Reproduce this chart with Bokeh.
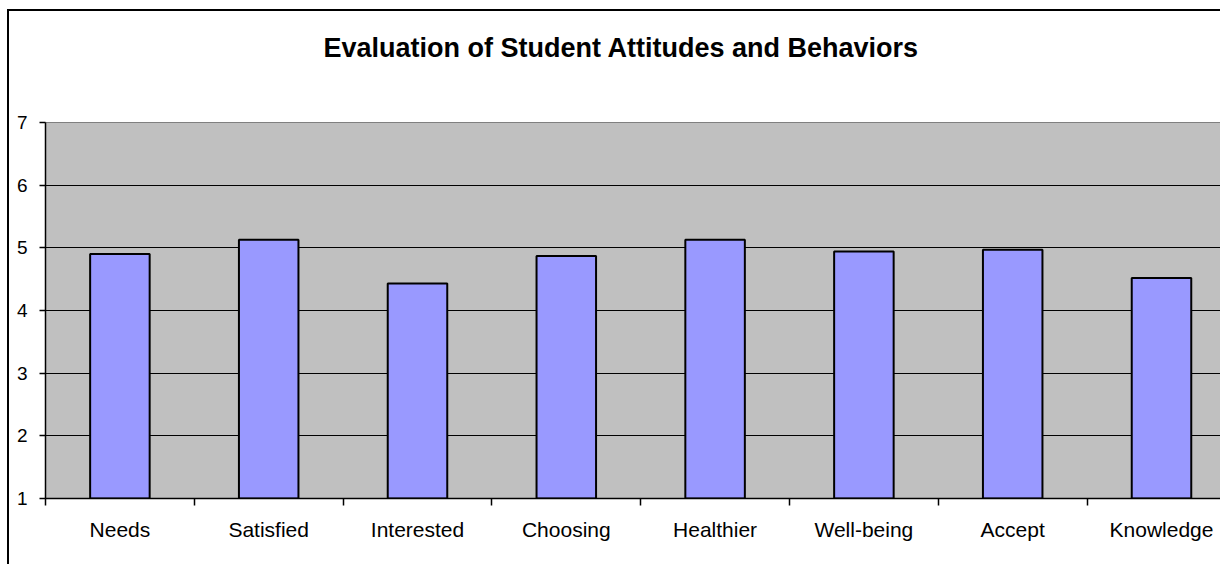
from bokeh.plotting import figure
from bokeh.models import Range1d, FixedTicker, Title
from bokeh.embed import file_html
from bokeh.resources import INLINE

# ---- data ----
categories = ["Needs", "Satisfied", "Interested", "Choosing", "Healthier",
              "Well-being", "Accept", "Knowledge"]
values = [4.90, 5.13, 4.43, 4.87, 5.13, 4.94, 4.97, 4.52]
y_ticks = [1, 2, 3, 4, 5, 6, 7]
title_text = "Evaluation of Student Attitudes and Behaviors"

FONT = "Liberation Sans"

n = len(categories)
centers = [i + 0.5 for i in range(n)]
bounds = list(range(n + 1))

p = figure(width=1213, height=555, output_backend="svg", toolbar_location=None,
           x_range=Range1d(0, 7.91), y_range=Range1d(y_ticks[0], y_ticks[-1]),
           min_border_left=36, min_border_right=0, min_border_top=111,
           min_border_bottom=68)
p.title_location = None

# outer chart border (left and top edges of the chart area)
p.styles = {"border-left": "2px solid black", "border-top": "2px solid black",
            "margin-left": "7px", "margin-top": "9px"}

p.background_fill_color = "#C0C0C0"
p.border_fill_color = "white"
p.outline_line_color = "#808080"
p.outline_line_width = 1

# spacer between frame and title, then the title itself (outer)
p.add_layout(Title(text=" ", text_font_size="1px", standoff=37), "above")
p.add_layout(Title(text=title_text, align="left", offset=278, standoff=39,
                   text_font=FONT, text_font_size="27px",
                   text_font_style="bold", text_color="black"), "above")

# grid
p.xgrid.visible = False
p.ygrid.ticker = FixedTicker(ticks=y_ticks[1:-1])
p.ygrid.grid_line_color = "black"
p.ygrid.grid_line_width = 1.2

# y axis
p.yaxis.ticker = FixedTicker(ticks=y_ticks)
p.yaxis.major_tick_out = 6
p.yaxis.major_tick_in = 0
p.yaxis.minor_tick_line_color = None
p.yaxis.axis_line_color = "black"
p.yaxis.axis_line_width = 1.5
p.yaxis.major_tick_line_color = "black"
p.yaxis.major_tick_line_width = 1.5
p.yaxis.major_label_text_font = FONT
p.yaxis.major_label_text_font_size = "19px"
p.yaxis.major_label_text_color = "black"
p.yaxis.major_label_standoff = 12

# x axis
p.xaxis.ticker = FixedTicker(ticks=centers, minor_ticks=bounds)
p.xaxis.major_tick_line_color = None
p.xaxis.minor_tick_out = 7
p.xaxis.minor_tick_in = 0
p.xaxis.minor_tick_line_color = "black"
p.xaxis.minor_tick_line_width = 1.5
p.xaxis.axis_line_color = "black"
p.xaxis.axis_line_width = 1.5
p.xaxis.major_label_overrides = {c: name for c, name in zip(centers, categories)}
p.xaxis.major_label_text_font = FONT
p.xaxis.major_label_text_font_size = "21px"
p.xaxis.major_label_text_color = "black"
p.xaxis.major_label_standoff = 12

# bars
p.vbar(x=centers, width=0.4, bottom=y_ticks[0], top=values,
       fill_color="#9999FF", line_color="black", line_width=2)

open("out.html", "w").write(file_html(p, INLINE))
